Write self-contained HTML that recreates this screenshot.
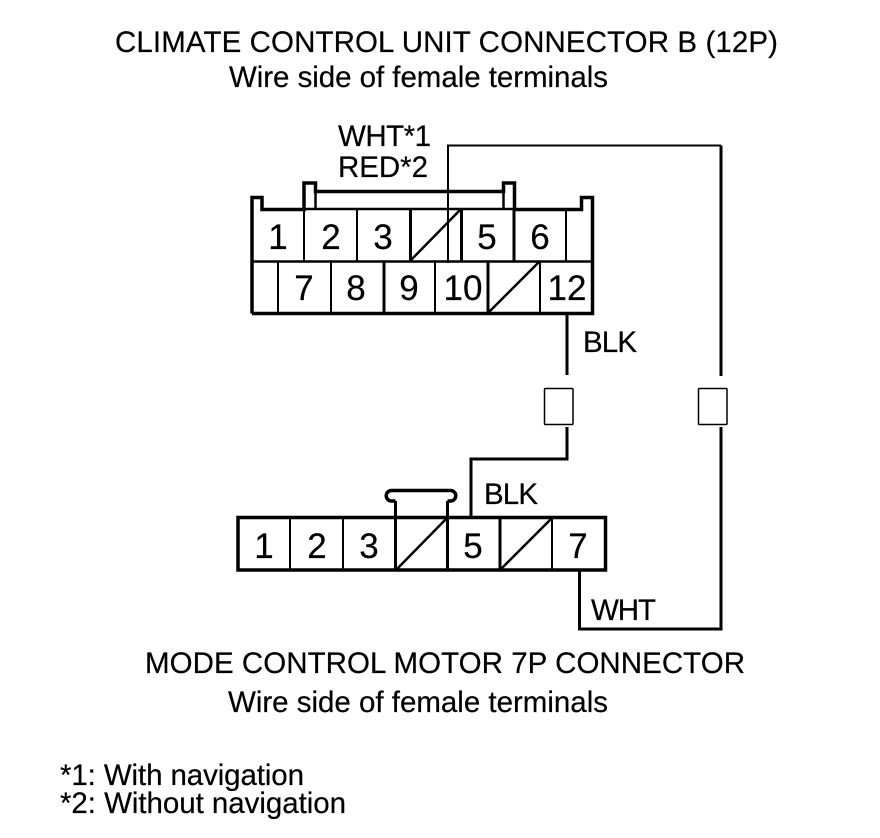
<!DOCTYPE html>
<html><head><meta charset="utf-8"><style>
html,body{margin:0;padding:0;background:#fff}
svg{display:block}
text{font-family:"Liberation Sans",sans-serif;font-size:29.5px;fill:#000;stroke:#000;stroke-width:.2px}
.n{font-size:35px;text-anchor:middle}
</style></head><body>
<svg width="880" height="838" viewBox="0 0 880 838" xmlns="http://www.w3.org/2000/svg">
<text x="115" y="52" textLength="663">CLIMATE CONTROL UNIT CONNECTOR B (12P)</text>
<text x="229" y="87" textLength="379">Wire side of female terminals</text>
<text x="338" y="146" textLength="93">WHT*1</text>
<text x="338" y="177" textLength="90">RED*2</text>
<g fill="none" stroke="#000" stroke-linejoin="miter">
<path stroke-width="3.5" d="M252 313.500V197.500H262V209.500H304V183H315.500V191.500H503.500V183H514.500V209.500H581.500V197.500H592.500V313.500H252"/>
<path stroke-width="2.500" d="M315.500 191V209M503.500 191V209M304 209H514M252 261.500H592"/>
<path stroke-width="2" d="M304 209V261M357 209V261M566 209V261M278 261V313M331 261V313M435 261V313M540 261V313"/>
<path stroke-width="3" d="M410.500 209V261M461.500 209V261M514 209V261M384 261V313M488 261V313"/>
<path stroke-width="2.500" d="M410 261L461 209M488 313L540 261"/>
<path stroke-width="2" d="M448 263V145.500H721"/>
<path stroke-width="3" d="M721 376V145.500"/>
<path stroke-width="3" d="M567 314V375M567 427V459H471V517M721 427V629H579.500V570"/>
<rect x="544.500" y="388.500" width="28.500" height="36" rx="1" stroke-width="1.500"/>
<rect x="698.500" y="388.500" width="28.500" height="36" rx="1" stroke-width="1.500"/>
<rect x="238" y="517.500" width="367.500" height="52.500" stroke-width="3.500"/>
<path stroke-width="2" d="M290 517V570M343 517V570M552 517V570"/>
<path stroke-width="3" d="M395.500 517V501M447.500 517V501M395.500 517V570M447.500 517V570M500 517V570"/>
<path stroke-width="2.500" d="M396 570L447 518M500 570L552 518"/>
<path stroke-width="3.500" d="M395.500 501H391.500A5.250 5.250 0 0 1 391.500 490.500H450.500A5.250 5.250 0 0 1 450.500 501H447.500"/>
</g>
<text class="n" x="278" y="249">1</text>
<text class="n" x="331" y="249">2</text>
<text class="n" x="383" y="249">3</text>
<text class="n" x="487" y="249">5</text>
<text class="n" x="540" y="249">6</text>
<text class="n" x="304" y="300">7</text>
<text class="n" x="356" y="300">8</text>
<text class="n" x="409" y="300">9</text>
<text class="n" x="463" y="300">10</text>
<text class="n" x="567" y="300">12</text>
<text x="583" y="352" textLength="54">BLK</text>
<text x="484" y="504" textLength="54">BLK</text>
<text x="591" y="620" textLength="65">WHT</text>
<text class="n" x="264" y="558">1</text>
<text class="n" x="317" y="558">2</text>
<text class="n" x="369" y="558">3</text>
<text class="n" x="473" y="558">5</text>
<text class="n" x="578" y="558">7</text>
<text x="145" y="673" textLength="600">MODE CONTROL MOTOR 7P CONNECTOR</text>
<text x="228" y="712" textLength="380">Wire side of female terminals</text>
<text x="60" y="785" textLength="244">*1: With navigation</text>
<text x="60" y="813" textLength="286">*2: Without navigation</text>
</svg>
</body></html>
